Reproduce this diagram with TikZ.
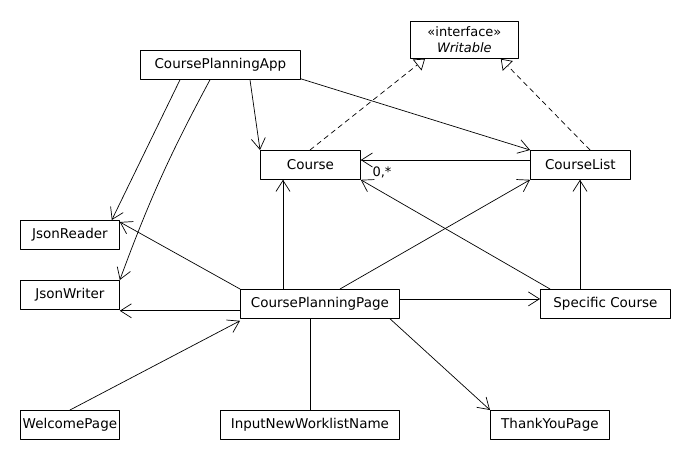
\documentclass[tikz,border=0pt]{standalone}
\usepackage{fontspec}
\setmainfont{DejaVu Sans}
\usetikzlibrary{arrows.meta}
\tikzset{
	cls/.style={draw,line width=0.8pt,anchor=north west,minimum height=29pt,inner sep=0pt,font=\fontsize{13.5}{16}\selectfont},
	assoc/.style={line width=0.7pt,-{Straight Barb[length=11pt,width=14pt]}},
	realize/.style={line width=0.7pt,dash pattern=on 5pt off 4pt,-{Triangle[open,length=10pt,width=14pt,fill=white]}},
	mult/.style={font=\fontsize{13}{16}\selectfont,inner sep=0pt}
}
\begin{document}
\begin{tikzpicture}[line cap=round,line join=round,x=1pt,y=-1pt]
				\useasboundingbox (0,0) rectangle (690,460);
				\node [cls,minimum width=108pt,minimum height=37pt,align=center,font=\fontsize{13}{16}\selectfont] (writable) at (410,21) {«interface»\\\textit{Writable}};
				\node [cls,minimum width=160pt] (app) at (140,50) {CoursePlanningApp};
				\node [cls,minimum width=100pt] (course) at (260,150) {Course};
				\node [cls,minimum width=100pt] (list) at (530,150) {CourseList};
				\node [cls,minimum width=99pt] (reader) at (20,220) {JsonReader};
				\node [cls,minimum width=99pt] (writer) at (20,280) {JsonWriter};
				\node [cls,minimum width=159pt] (page) at (240,289) {CoursePlanningPage};
				\node [cls,minimum width=130pt] (spec) at (540,289) {Specific Course};
				\node [cls,minimum width=99pt] (welcome) at (20,410) {WelcomePage};
				\node [cls,minimum width=179pt] (input) at (220,410) {InputNewWorklistName};
				\node [cls,minimum width=119pt] (thanks) at (490,410) {ThankYouPage};
				\node [mult] (many) at (382,172) {0,*};
				\draw [assoc] ([xshift=40pt]app.south west) -- ([xshift=-8pt]reader.north east);
				\draw [assoc] ([xshift=70pt]app.south west) to[bend right=4] (writer.north east);
				\draw [assoc] ([xshift=110pt]app.south west) -- (course.north west);
				\draw [assoc] ([yshift=1pt]app.south east) -- (list.north west);
				\draw [realize] ([xshift=50pt]course.north west) -- ([xshift=15pt]writable.south west);
				\draw [realize] ([xshift=60pt]list.north west) -- ([xshift=-18pt]writable.south east);
				\draw [assoc] ([yshift=-10pt]list.north west) -- ([yshift=-10pt]course.north east);
				\draw [assoc] ([xshift=43pt]page.north west) -- ([xshift=23pt]course.south west);
				\draw [assoc] ([xshift=100pt]page.north west) -- (list.south west);
				\draw [assoc] (page.north west) -- ([yshift=-2pt]reader.north east);
				\draw [assoc] ([yshift=8pt]page.south west) -- ([yshift=-1pt]writer.south east);
				\draw [assoc] ([yshift=5pt]page.east) -- ([yshift=5pt]spec.west);
				\draw [assoc] ([xshift=10pt]spec.north west) -- (course.south east);
				\draw [assoc] ([xshift=40pt]spec.north west) -- ([xshift=50pt]list.south west);
				\draw [assoc] ([xshift=50pt]welcome.north west) -- ([yshift=-2pt]page.south west);
				\draw [line width=0.7pt] ([xshift=70pt]page.south west) -- ([xshift=90pt]input.north west);
				\draw [assoc] ([xshift=150pt]page.south west) -- (thanks.north west);
			\end{tikzpicture}
\end{document}
